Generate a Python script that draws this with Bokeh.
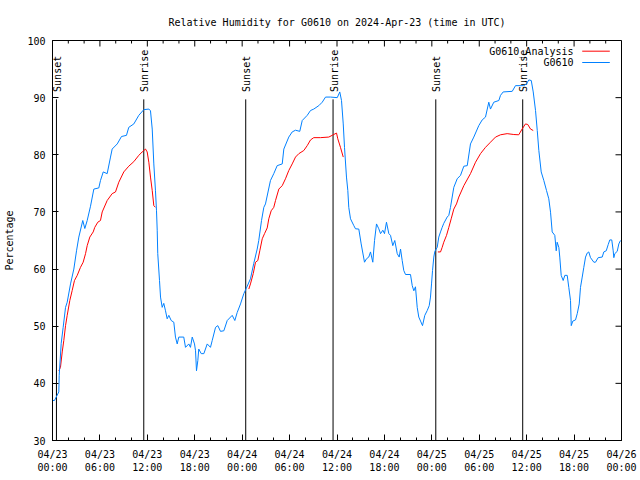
import math
from bokeh.plotting import figure
from bokeh.models import Range1d, FixedTicker
from bokeh.core.properties import value
from bokeh.embed import file_html
from bokeh.resources import INLINE

# ---------------- data (hours since 2024-04-23 00:00 UTC) ----------------
obs_hours = [0.0, 0.25, 0.8, 0.85, 1.1, 1.35, 1.65, 1.86, 2.28, 2.7, 3.04, 3.33, 3.83, 4.09, 4.39,
             4.81, 5.23, 5.86, 6.07, 6.42, 6.92, 7.34, 7.55, 8.19, 8.73, 9.36, 9.65, 10.29, 10.92,
             11.55, 12.19, 12.4, 12.62, 12.82, 13.03, 13.16, 13.25, 13.32, 13.54, 13.67, 13.88,
             14.08, 14.3, 14.51, 14.72, 15.02, 15.35, 15.56, 15.78, 15.98, 16.61, 16.83, 17.25,
             17.46, 17.68, 17.97, 18.1, 18.22, 18.39, 18.51, 18.82, 19.15, 19.58, 19.99, 20.21,
             20.63, 20.92, 21.26, 21.68, 22.11, 22.74, 23.07, 23.37, 23.79, 24.21, 24.51, 25.05,
             25.47, 25.9, 26.1, 26.45, 26.74, 26.95, 27.58, 28.0, 28.43, 29.07, 29.27, 29.9, 30.33,
             30.75, 31.29, 31.6, 32.23, 32.65, 33.06, 33.7, 34.13, 34.55, 35.18, 36.03, 36.35,
             36.57, 36.79, 36.95, 37.2, 37.37, 37.49, 37.71, 38.13, 38.34, 38.76, 39.06, 39.48,
             39.73, 40.02, 40.24, 40.53, 40.75, 41.0, 41.29, 41.51, 41.8, 42.01, 42.26, 42.56,
             42.77, 43.06, 43.31, 43.62, 43.87, 44.04, 44.25, 44.45, 44.67, 45.3, 45.52, 45.72,
             45.93, 46.15, 46.35, 46.57, 46.82, 47.11, 47.42, 47.67, 47.83, 47.96, 48.09, 48.25,
             48.38, 48.68, 48.88, 49.1, 49.31, 49.51, 49.94, 50.15, 50.36, 50.78, 51.21, 51.63,
             52.05, 52.48, 52.89, 53.31, 53.94, 54.37, 54.79, 55.21, 55.42, 55.84, 56.48, 56.69,
             57.03, 58.17, 58.59, 59.64, 59.98, 60.27, 60.58, 60.83, 61.12, 61.34, 61.54, 61.84,
             62.17, 62.51, 62.8, 63.02, 63.23, 63.56, 63.74, 63.86, 64.07, 64.19, 64.37, 64.62,
             64.83, 65.13, 65.33, 65.55, 65.64, 65.84, 66.18, 66.4, 66.65, 66.81, 67.03, 67.23,
             67.45, 67.66, 67.86, 68.08, 68.5, 68.71, 69.05, 69.56, 69.76, 70.07, 70.32, 70.52,
             70.77, 70.95, 71.03, 71.15, 71.46, 71.66, 71.87]
obs_rh = [37.0, 37.0, 38.5, 41.4, 47.0, 49.8, 53.3, 54.2, 57.4, 60.0, 63.2, 65.6, 68.5, 67.1, 68.5,
          71.0, 74.0, 74.2, 75.5, 77.0, 76.7, 79.6, 81.0, 81.9, 83.2, 83.4, 84.8, 85.4, 86.9,
          87.9, 88.0, 87.7, 84.5, 78.4, 73.7, 70.2, 66.8, 62.7, 58.0, 55.1, 53.3,
          54.0, 52.7, 51.3, 51.9, 51.0, 50.7, 48.1, 46.9, 48.1, 48.1, 46.3, 46.9,
          46.3, 48.1, 46.9, 45.7, 42.2, 44.0, 46.0, 45.2, 45.2, 46.9, 46.3, 47.5,
          49.8, 50.1, 49.1, 49.2, 51.0, 51.9, 51.0, 52.4, 53.9, 55.7, 56.6, 58.3,
          61.0, 63.5, 65.0, 68.5, 70.8, 71.4, 75.5, 76.7, 78.1, 78.4, 81.0, 83.1, 84.0,
          84.3, 84.1, 86.0, 86.9, 87.75, 88.0, 88.6, 89.2, 90.1, 90.1, 90.0, 91.0,
          89.5, 85.4, 81.3, 76.1, 73.75, 70.8, 68.8, 67.6, 67.05, 67.0, 64.4, 61.2,
          61.8, 62.1, 63.0, 61.2, 65.0, 67.9, 67.05, 66.2, 66.8, 66.2, 68.2, 66.2,
          65.9, 64.1, 65.0, 62.7, 62.1, 63.5, 61.5, 59.75, 59.05, 59.05, 57.1, 56.2,
          56.9, 53.3, 51.6, 50.9, 50.1, 51.9, 52.75, 53.6, 55.1, 57.4, 59.75, 62.1,
          63.1, 63.8, 65.6, 66.5, 67.3, 68.0, 69.1, 69.4, 70.8, 74.3, 75.8, 76.4,
          78.0, 78.1, 81.9, 83.1, 85.1, 86.1, 86.6, 89.2, 88.0, 89.2, 89.5, 90.4,
          91.0, 91.1, 92.1, 92.1, 92.4, 93.1, 93.0, 91.0, 87.75, 84.25, 80.75, 77.0,
          75.5, 73.75, 72.3, 69.95, 66.5, 65.9, 63.2, 64.7, 63.8, 62.1, 58.9, 58.0,
          58.9, 58.9, 56.8, 54.5, 50.1, 50.9, 51.1, 52.2, 53.9, 56.8, 58.6, 60.3,
          62.1, 62.8, 63.0, 62.0, 61.2, 61.2, 62.0, 62.1, 63.0, 63.2, 64.3, 65.1,
          65.1, 63.2, 62.0, 62.7, 63.1, 64.4, 65.0]

ana1_hours = [0.8, 1.01, 1.23, 1.43, 1.65, 1.86, 2.19, 2.49, 2.78, 3.13, 3.54, 3.88, 4.18, 4.39,
              4.72, 5.15, 5.35, 5.73, 6.07, 6.29, 6.92, 7.55, 7.97, 8.39, 9.02, 9.65, 10.29,
              10.92, 11.35, 11.77, 11.98, 12.19, 12.4, 12.62, 12.82, 13.03]
ana1_rh = [42.2, 42.8, 45.5, 47.5, 50.1, 51.9, 54.5, 56.25, 58.0, 58.9, 60.3, 61.2, 62.7, 64.1,
           65.6, 66.5, 67.3, 68.2, 68.5, 70.0, 72.0, 73.2, 73.5, 75.2, 77.0, 78.0, 78.8,
           79.9, 80.5, 81.0, 80.5, 78.7, 76.1, 73.75, 71.1, 70.8]
ana2_hours = [24.84, 25.05, 25.4, 25.69, 25.98, 26.23, 26.54, 26.83, 27.17, 27.37, 27.67, 28.0,
              28.22, 28.64, 29.07, 29.48, 29.9, 30.33, 30.75, 31.17, 31.8, 32.23, 32.65, 33.06,
              33.91, 34.96, 35.39, 35.94, 36.1, 36.44, 36.79]
ana2_rh = [56.5, 57.4, 59.2, 61.2, 61.5, 63.2, 65.3, 66.2, 67.2, 68.8, 70.2, 70.8,
           72.0, 74.0, 74.6, 75.8, 77.25, 78.4, 79.6, 80.2, 80.75, 81.6, 82.6, 83.0,
           83.0, 83.1, 83.4, 83.8, 82.8, 81.3, 79.6]
ana3_hours = [48.76, 49.1, 49.31, 49.51, 49.86, 50.15, 50.45, 50.78, 51.12, 51.41, 52.05, 52.89,
              53.53, 54.16, 54.79, 55.42, 56.06, 56.69, 57.53, 58.37, 59.0, 59.42, 59.85, 60.14,
              60.49, 60.83]
ana3_rh = [63.0, 63.0, 63.8, 64.7, 65.9, 67.3, 68.8, 70.5, 71.4, 72.6, 74.6, 76.7,
           78.7, 80.2, 81.3, 82.2, 83.1, 83.5, 83.7, 83.55, 83.5, 84.5, 85.4, 85.3,
           84.5, 84.25]

sunset_hours = [0.5, 24.45, 48.5]
sunrise_hours = [11.55, 35.5, 59.5]

tick_hours = list(range(0, 73, 6))
minor_tick_hours = list(range(0, 73, 2))
tick_labels = ["04/23\n00:00", "04/23\n06:00", "04/23\n12:00", "04/23\n18:00",
               "04/24\n00:00", "04/24\n06:00", "04/24\n12:00", "04/24\n18:00",
               "04/25\n00:00", "04/25\n06:00", "04/25\n12:00", "04/25\n18:00",
               "04/26\n00:00"]
y_ticks = list(range(30, 101, 10))

# ---------------- styling ----------------
FONT = "DejaVu Sans Mono"
FS = "10px"
RED = "#ff0000"
BLUE = "#0080ff"
X0, X1, Y0, Y1 = 0, 72, 30, 100
FRAME_W, FRAME_H = 569, 400
MAJ_PX, MIN_PX = 6, 3

p = figure(width=640, height=480, output_backend="svg", toolbar_location=None,
           x_range=Range1d(X0, X1), y_range=Range1d(Y0, Y1),
           min_border_left=52, min_border_right=19, min_border_top=40, min_border_bottom=40)
p.title.text = "Relative Humidity for G0610 on 2024-Apr-23 (time in UTC)"
p.title.align = "center"
p.title.text_font = FONT
p.title.text_font_size = FS
p.title.text_font_style = "normal"
p.title.text_color = "black"
p.title.standoff = 25
p.xgrid.visible = False
p.ygrid.visible = False
p.outline_line_color = "black"
p.background_fill_color = "white"
p.border_fill_color = "white"

def style_axis(ax):
    ax.axis_line_color = "black"
    ax.major_tick_line_color = "black"
    ax.minor_tick_line_color = "black"
    ax.major_tick_in = MAJ_PX
    ax.major_tick_out = 0
    ax.minor_tick_in = MIN_PX
    ax.minor_tick_out = 0
    ax.major_label_text_font = FONT
    ax.major_label_text_font_size = FS
    ax.major_label_text_color = "black"
    ax.axis_label_text_font = FONT
    ax.axis_label_text_font_size = FS
    ax.axis_label_text_font_style = "normal"
    ax.axis_label_text_color = "black"

xa = p.xaxis[0]
xa.ticker = FixedTicker(ticks=tick_hours, minor_ticks=minor_tick_hours)
xa.major_label_overrides = {h: lab for h, lab in zip(tick_hours, tick_labels)}
style_axis(xa)
xa.major_label_standoff = 8

ya = p.yaxis[0]
ya.ticker = FixedTicker(ticks=y_ticks, minor_ticks=[])
style_axis(ya)
ya.major_label_standoff = 7
ya.axis_label = "Percentage"
ya.axis_label_standoff = 9

# mirrored inward ticks on top and right borders (gnuplot "mirror")
dy_maj = MAJ_PX * (Y1 - Y0) / FRAME_H
dy_min = MIN_PX * (Y1 - Y0) / FRAME_H
dx_maj = MAJ_PX * (X1 - X0) / FRAME_W
top_minor = [h for h in minor_tick_hours if h not in tick_hours]
p.segment(x0=tick_hours, y0=[Y1] * len(tick_hours), x1=tick_hours,
          y1=[Y1 - dy_maj] * len(tick_hours), line_color="black", line_width=1)
p.segment(x0=top_minor, y0=[Y1] * len(top_minor), x1=top_minor,
          y1=[Y1 - dy_min] * len(top_minor), line_color="black", line_width=1)
p.segment(x0=[X1] * len(y_ticks), y0=y_ticks, x1=[X1 - dx_maj] * len(y_ticks),
          y1=y_ticks, line_color="black", line_width=1)

# sunrise / sunset markers
LINE_TOP = 89.7
LABEL_Y = 91.0
for hrs, name in ((sunset_hours, "Sunset"), (sunrise_hours, "Sunrise")):
    p.segment(x0=hrs, y0=[Y0] * len(hrs), x1=hrs, y1=[LINE_TOP] * len(hrs),
              line_color="black", line_width=1)
    p.text(x=hrs, y=[LABEL_Y] * len(hrs), text=[name] * len(hrs), angle=math.pi / 2,
           text_align="left", text_baseline="middle", x_offset=1,
           text_font=value(FONT), text_font_size=FS, text_color="black")

# series
for hh, vv in ((ana1_hours, ana1_rh), (ana2_hours, ana2_rh), (ana3_hours, ana3_rh)):
    p.line(hh, vv, line_color=RED, line_width=1)
p.line(obs_hours, obs_rh, line_color=BLUE, line_width=1)

# gnuplot-style key (text left, sample right)
KEY_TX = 65.93
KEY_X0, KEY_X1 = 67.03, 70.52
KEY_Y = [98.13, 96.15]
p.text(x=[KEY_TX, KEY_TX], y=KEY_Y, text=["G0610_Analysis", "G0610"],
       text_align="right", text_baseline="middle",
       text_font=value(FONT), text_font_size=FS, text_color="black")
p.segment(x0=[KEY_X0, KEY_X0], y0=KEY_Y, x1=[KEY_X1, KEY_X1], y1=KEY_Y,
          line_color=[RED, BLUE], line_width=1)

open("out.html", "w").write(file_html(p, INLINE))
